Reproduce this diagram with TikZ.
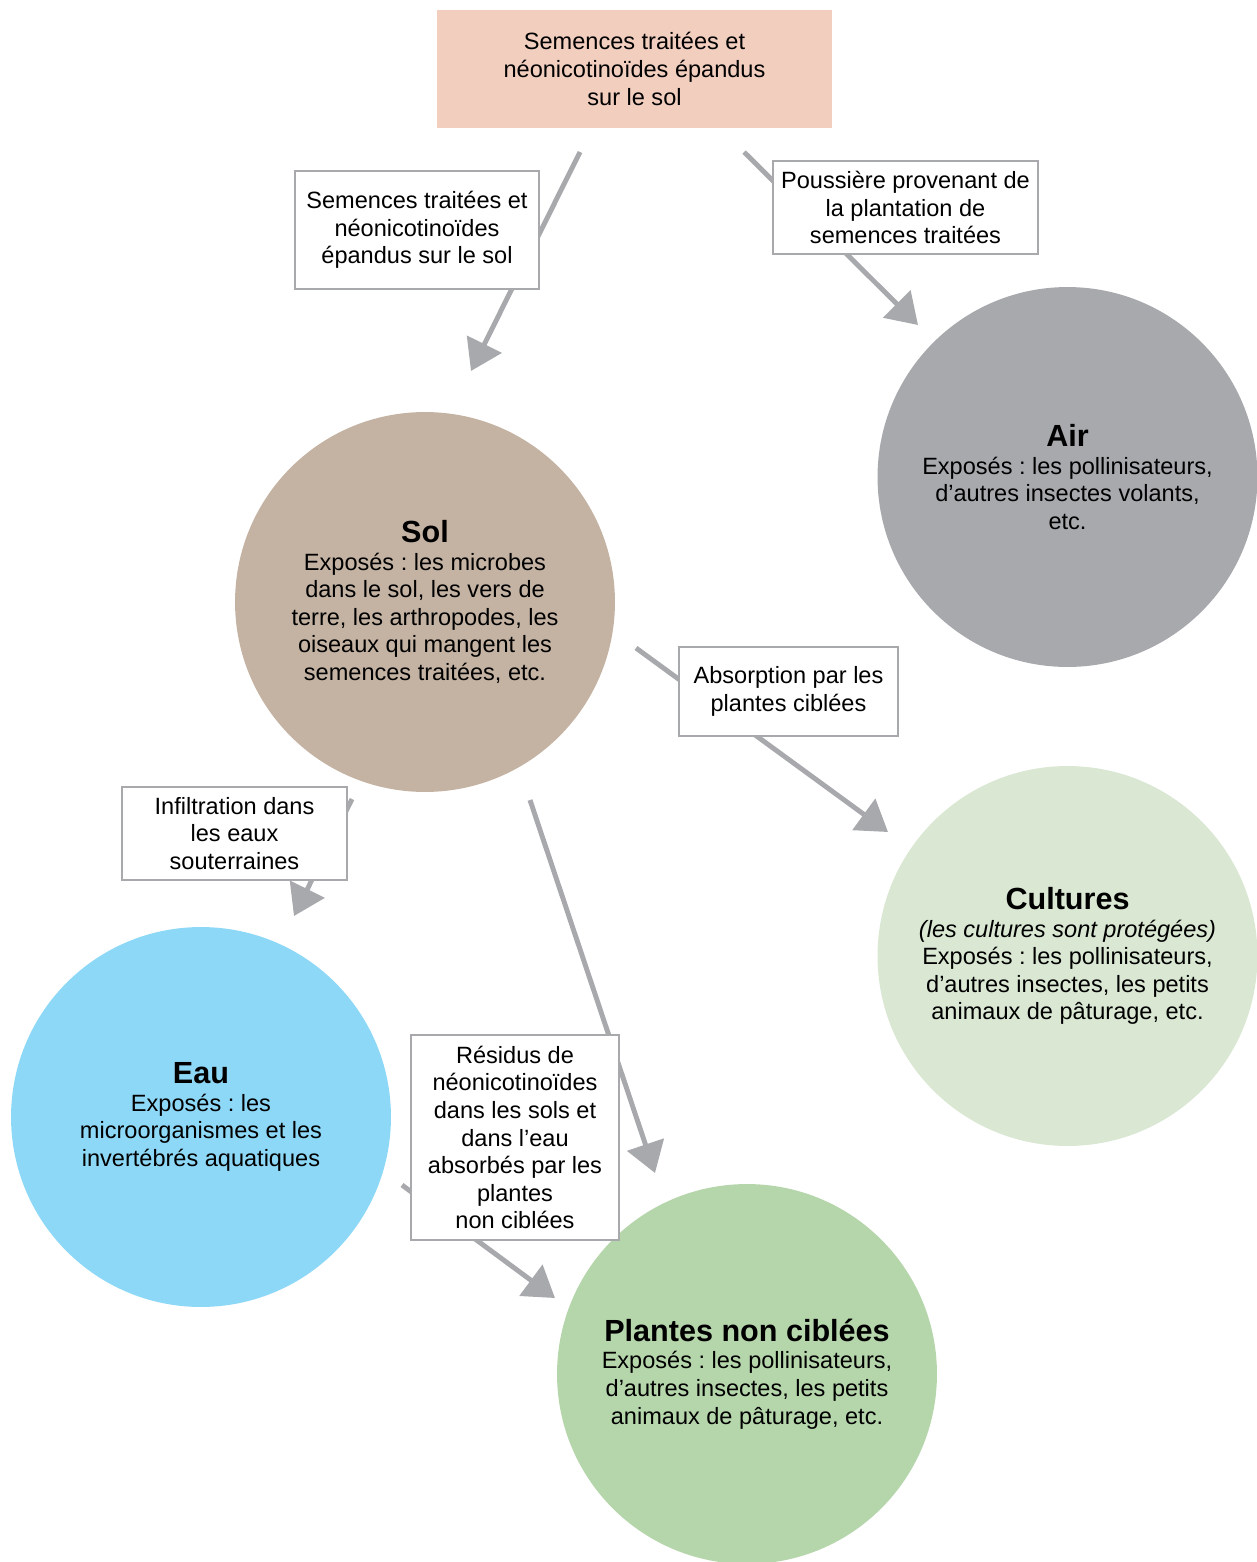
\documentclass[tikz,border=0pt]{standalone}
\usepackage{fontspec}
\setmainfont{Liberation Sans}
\usetikzlibrary{arrows.meta}
\frenchspacing

\definecolor{linegray}{HTML}{A7A9AC}
\definecolor{seedpink}{HTML}{F2CEBF}
\definecolor{airgray}{HTML}{A7A9AD}
\definecolor{soilbrown}{HTML}{C4B3A3}
\definecolor{cropgreen}{HTML}{D9E7D3}
\definecolor{waterblue}{HTML}{8ED8F7}
\definecolor{plantgreen}{HTML}{B5D5AB}

\newcommand{\circtitle}[1]{{\fontsize{17.4}{20}\selectfont\bfseries #1}}

\tikzset{
  txt/.style={font=\fontsize{13.4}{15.7}\selectfont, align=center},
  circ/.style={txt, circle, minimum size=7.6cm, inner sep=0pt},
  lbl/.style={txt, draw=linegray, line width=1.6pt, fill=white, inner sep=0pt},
  arr/.style={draw=linegray, line width=2.8pt, -{Triangle[length=0.6cm,width=0.76cm]}}
}

\begin{document}
\begin{tikzpicture}[x=0.02cm,y=-0.02cm]
      \useasboundingbox (0,0) rectangle (1257,1562);

      % Define the positions of the nodes
      \node[txt, fill=seedpink, minimum width=7.9cm, minimum height=2.36cm] (seeds) at (634.5,69) {Semences traitées et\\néonicotinoïdes épandus\\sur le sol};

      \node[circ, fill=airgray] (air) at (1067.5,477) {\circtitle{Air}\\Exposés : les pollinisateurs,\\d’autres insectes volants,\\etc.};
      \node[circ, fill=soilbrown] (sol) at (425,602) {\circtitle{Sol}\\Exposés : les microbes\\dans le sol, les vers de\\terre, les arthropodes, les\\oiseaux qui mangent les\\semences traitées, etc.};
      \node[circ, fill=cropgreen] (cultures) at (1067.5,956) {\circtitle{Cultures}\\\textit{(les cultures sont protégées)}\\Exposés : les pollinisateurs,\\d’autres insectes, les petits\\animaux de pâturage, etc.};
      \node[circ, fill=waterblue] (eau) at (201,1117) {\circtitle{Eau}\\Exposés : les\\microorganismes et les\\invertébrés aquatiques};
      \node[circ, fill=plantgreen] (plantes) at (747,1374) {\circtitle{Plantes non ciblées}\\Exposés : les pollinisateurs,\\d’autres insectes, les petits\\animaux de pâturage, etc.};

      % Free ends of the arrows
      \coordinate (seeds-a) at (580,152);
      \coordinate (sol-in) at (471,371);
      \coordinate (seeds-b) at (744,152);
      \coordinate (air-in) at (918,325);
      \coordinate (sol-a) at (636,648);
      \coordinate (cultures-in) at (888,832);
      \coordinate (sol-b) at (352,799);
      \coordinate (eau-in) at (294,916);
      \coordinate (sol-c) at (530,800);
      \coordinate (plantes-a) at (655,1173);
      \coordinate (eau-a) at (402,1185);
      \coordinate (plantes-b) at (555,1298);

      % Draw the edges
      \draw[arr] (seeds-a) -- (sol-in);
      \draw[arr] (seeds-b) -- (air-in);
      \draw[arr] (sol-a) -- (cultures-in);
      \draw[arr] (sol-b) -- (eau-in);
      \draw[arr] (sol-c) -- (plantes-a);
      \draw[arr] (eau-a) -- (plantes-b);

      % Labels on the edges
      \node[lbl, minimum width=4.88cm, minimum height=2.36cm] (epandage) at (417,230) {Semences traitées et\\néonicotinoïdes\\épandus sur le sol};
      \node[lbl, minimum width=5.3cm, minimum height=1.86cm] (poussiere) at (905.5,207.5) {Poussière provenant de\\la plantation de\\semences traitées};
      \node[lbl, minimum width=4.38cm, minimum height=1.78cm] (absorption) at (788.5,691.5) {Absorption par les\\plantes ciblées};
      \node[lbl, minimum width=4.5cm, minimum height=1.86cm] (infiltration) at (234.5,833.5) {Infiltration dans\\les eaux\\souterraines};
      \node[lbl, minimum width=4.16cm, minimum height=4.1cm] (residus) at (515,1137.5) {Résidus de\\néonicotinoïdes\\dans les sols et\\dans l’eau\\absorbés par les\\plantes\\non ciblées};
  \end{tikzpicture}
\end{document}
